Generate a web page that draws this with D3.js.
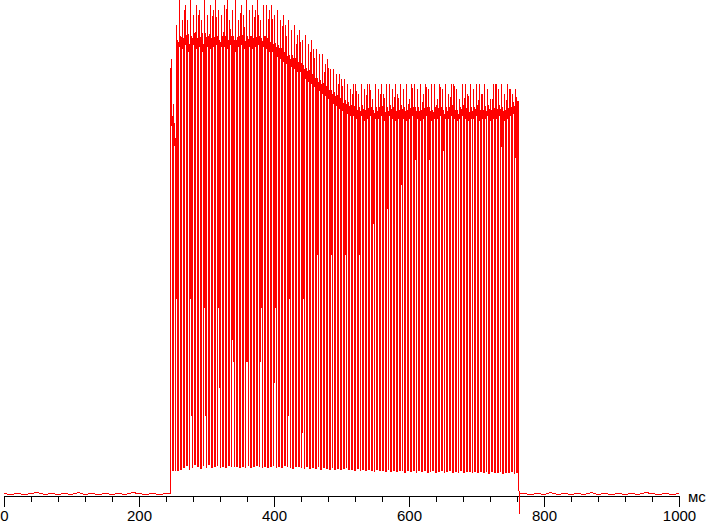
<!DOCTYPE html>
<html>
<head>
<meta charset="utf-8">
<script src="https://cdn.jsdelivr.net/npm/d3@7"></script>
<style>
  body { margin: 0; background: #fff; }
  svg { display: block; }
  .axis text { font-family: Arial, "Liberation Sans", sans-serif; font-size: 15px; fill: #000; }
  .axis path, .axis line { stroke: #000; shape-rendering: crispEdges; }
</style>
</head>
<body>
<svg width="707" height="523"></svg>
<script>
// time axis, ms
var tickLabels = [0, 200, 400, 600, 800, 1000];
var minorTicks = [40, 80, 120, 160, 240, 280, 320, 360, 440, 480, 520, 560, 640, 680, 720, 760, 840, 880, 920, 960];
var unitLabel = 'мс';

// PWM section
var pwmStart = 247, pwmPeriod = 4.15, pwmEnd = 763;

// level of each pulse (% of full height)
var spikeLevels = [
  88, 79, 95, 100, 96, 99, 96, 100, 97, 99,
  98, 96, 100, 97, 99, 98, 100, 98, 97, 99,
  100, 96, 98, 100, 96, 99, 97, 100, 98, 99,
  98, 100, 96, 99, 99, 98, 99, 97, 98, 96,
  97, 95, 96, 94, 95, 93, 94, 92, 93, 91,
  92, 90, 90, 89, 89, 87, 88, 86, 86, 85,
  85, 84, 84, 83, 82, 83, 83, 81, 83, 82,
  83, 83, 80, 83, 82, 83, 81, 83, 83, 82,
  83, 81, 83, 82, 83, 80, 83, 83, 82, 83,
  81, 83, 82, 83, 83, 80, 83, 82, 83, 81,
  83, 83, 82, 80, 83, 83, 81, 83, 82, 83,
  83, 81, 83, 82, 80, 83, 83, 82, 83, 81,
  83, 82, 81, 82
];
var plateauLevels = [
  76, 72, 91, 92, 91.5, 92.5, 91, 92, 92.5, 91.5,
  92, 91, 92.5, 92, 91.5, 92, 92.5, 91, 92, 92,
  91.5, 92.5, 92, 91, 92, 92.5, 91.5, 92, 92, 91.5,
  92, 92.5, 91.5, 92, 91.5, 91, 91, 90.5, 90, 89.5,
  89, 88.5, 88, 88, 87.5, 87, 87, 86, 85.5, 85,
  84.5, 84, 83.5, 83, 82.5, 82, 81.5, 81, 80.5, 80,
  79.5, 79, 79, 78.5, 78, 78, 77.5, 77.5, 78, 77,
  77.5, 78, 77, 77.5, 77.5, 78, 77, 77.5, 78, 77.5,
  77, 77.5, 78, 77.5, 77, 77.5, 78, 77.5, 77.5, 77,
  77.5, 78, 77.5, 77, 77.5, 77.5, 78, 77, 77.5, 77.5,
  78, 77.5, 77, 77.5, 78, 77.5, 77, 77.5, 77.5, 78,
  77, 77.5, 77.5, 78, 77, 77.5, 77.5, 78, 77.5, 77,
  77.5, 78, 78.5, 79.5
];
var troughLevels = [
  4.9, 4.8, 4.9, 5.0, 5.5, 5.9, 5.1, 5.4, 6.0, 5.6,
  5.3, 5.8, 5.5, 6.1, 5.4, 5.6, 5.9, 5.5, 5.7, 5.5,
  5.8, 5.6, 5.6, 5.7, 5.4, 5.6, 5.5, 5.8, 5.5, 5.6,
  5.9, 5.6, 5.4, 5.7, 5.5, 5.6, 5.8, 5.4, 5.6, 5.5,
  5.8, 5.6, 5.4, 5.3, 5.6, 5.7, 5.4, 5.2, 5.6, 5.3,
  5.5, 5.2, 5.6, 5.1, 5.4, 5.3, 5.0, 5.4, 5.1, 5.3,
  5.0, 5.2, 5.4, 5.0, 5.1, 4.8, 5.2, 4.9, 5.0, 4.8,
  5.1, 4.9, 4.7, 5.0, 4.8, 4.9, 4.6, 5.0, 4.7, 4.9,
  4.6, 4.8, 4.9, 4.5, 4.8, 4.7, 4.9, 4.5, 4.8, 4.6,
  4.9, 4.5, 4.7, 4.8, 4.4, 4.7, 4.9, 4.5, 4.6, 4.8,
  4.4, 4.7, 4.5, 4.8, 4.4, 4.6, 4.7, 4.4, 4.6, 4.5,
  4.7, 4.4, 4.6, 4.3, 4.7, 4.5, 4.4, 4.6, 4.3, 4.5,
  4.4, 4.6, 4.3, 4.5
];

// dark level before and after, sampled every 10 ms
var preNoise = [0.2, 0, 0.2, 0, 0.2, 0.4, 0, 0.2, 0, 0.2, 0, 0.4, 0,
                0.2, 0, 0.2, 0, 0.2, 0, 0.4, 0.2, 0, 0.2, 0, 0.2];
var postNoise = [0.2, 0, 0.2, 0, 0.4, 0, 0.2, 0, 0.2, 0, 0.4, 0,
                 0.2, 0, 0.2, 0, 0.2, 0, 0.4, 0.2, 0, 0.2, 0, 0.2];

var svg = d3.select('svg');

var x = d3.scaleLinear().domain([0, 1000]).range([4, 679]);
var y = d3.scaleLinear().domain([0, 100]).range([494.5, 0]);
var axisY = 495.5;

// build the trace: spike + ringing on the plateau, then a short dip to the trough
var pts = [];
preNoise.forEach(function(v, i) { pts.push([i * 10, v]); });
pts.push([pwmStart, 0.1]);
for (var i = 0; i < spikeLevels.length; i++) {
  var t0 = pwmStart + i * pwmPeriod;
  var p = plateauLevels[i];
  pts.push([t0, p]);
  pts.push([t0 + 0.5, spikeLevels[i]]);
  pts.push([t0 + 1.0, p - 1.5]);
  pts.push([t0 + 1.6, p + 0.8]);
  pts.push([t0 + 2.3, p]);
  pts.push([t0 + 2.5, troughLevels[i]]);
  pts.push([t0 + 3.6, troughLevels[i]]);
  pts.push([t0 + 3.8, p]);
}
pts.push([pwmEnd - 0.5, plateauLevels[plateauLevels.length - 1]]);
pts.push([pwmEnd, -3.9]);
pts.push([pwmEnd + 0.6, 0.7]);
pts.push([pwmEnd + 1.5, 0.1]);
postNoise.forEach(function(v, i) { pts.push([770 + i * 10, v]); });

// axis
var axis = d3.axisBottom(x)
  .tickValues(tickLabels)
  .tickSize(11)
  .tickSizeOuter(0)
  .tickPadding(4)
  .tickFormat(d3.format('d'));

var gAxis = svg.append('g')
  .attr('class', 'axis')
  .attr('transform', 'translate(0,' + axisY + ')')
  .call(axis);

gAxis.selectAll('.minor')
  .data(minorTicks)
  .enter().append('line')
    .attr('class', 'minor')
    .attr('x1', function(d) { return Math.round(x(d)) + 0.5; })
    .attr('x2', function(d) { return Math.round(x(d)) + 0.5; })
    .attr('y1', 0)
    .attr('y2', 6)
    .attr('stroke', '#000');

svg.append('text')
  .attr('x', 688)
  .attr('y', 502)
  .style('font-family', 'Arial, "Liberation Sans", sans-serif')
  .style('font-size', '15px')
  .text(unitLabel);

var line = d3.line()
  .x(function(d) { return x(d[0]); })
  .y(function(d) { return y(d[1]); });

svg.append('path')
  .datum(pts)
  .attr('d', line)
  .attr('fill', 'none')
  .attr('stroke', '#ff0000')
  .attr('stroke-width', 1)
  .style('shape-rendering', 'crispEdges');
</script>
</body>
</html>
